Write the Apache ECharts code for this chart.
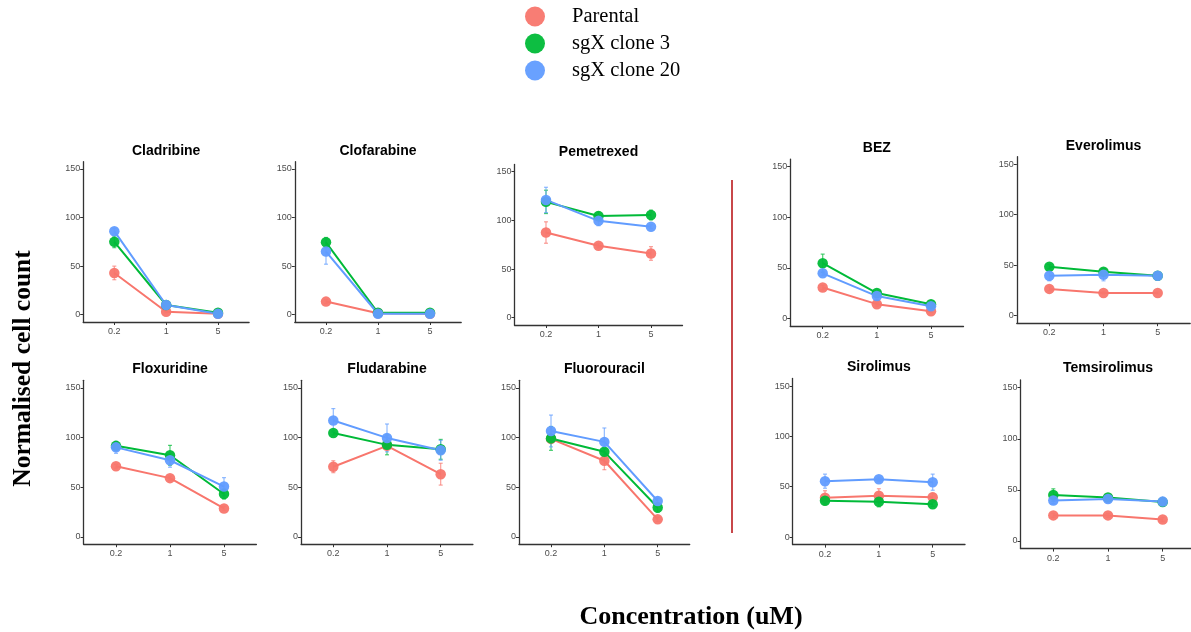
<!DOCTYPE html>
<html>
<head>
<meta charset="utf-8">
<script src="https://cdn.jsdelivr.net/npm/echarts@6/dist/echarts.min.js"></script>
<style>
html, body { margin: 0; padding: 0; background: #fff; }
#chart { width: 1191px; height: 632px; }
</style>
</head>
<body>
<div id="chart"></div>
<script>
var drugs = ['Cladribine', 'Clofarabine', 'Pemetrexed', 'BEZ', 'Everolimus',
             'Floxuridine', 'Fludarabine', 'Fluorouracil', 'Sirolimus', 'Temsirolimus'];
var doses = ['0.2', '1', '5'];
var groups = ['Parental', 'sgX clone 3', 'sgX clone 20'];
var yTicks = [0, 50, 100, 150];

// mean per drug, at 0.2 / 1 / 5 uM
var parental = [
    [43, 3, 1], [13.5, 1.5, 1], [87.5, 74, 66], [30.5, 14, 7], [26.5, 22.5, 22.5],
    [71, 59, 28.5], [70.5, 91.5, 63], [98.5, 76.5, 17.5], [39, 41, 39.5], [25, 25, 21]
];
var clone3 = [
    [75, 10, 2], [74.5, 2, 2], [119, 104.5, 105.5], [54.5, 25, 14], [48.5, 43.5, 39.5],
    [91.5, 82, 43], [104.5, 92.5, 88], [99, 85.5, 29.5], [36, 35, 32.5], [45, 42.5, 38]
];
var clone20 = [
    [86, 10, 1], [65, 1, 1], [121, 99.5, 93.5], [44.5, 22, 12], [39.5, 40.5, 39.5],
    [90, 77, 50.5], [117, 99.5, 87], [106.5, 95.5, 36], [55.5, 57.5, 54.5], [39.5, 41, 38.5]
];

// error bar half widths
var parentalErr = [
    [7, 1, 0.5], [2, 1, 0.5], [11, 2, 7], [2, 2, 1], [2, 1, 1],
    [2, 2, 2], [6, 2, 11], [3, 9, 2], [7, 7, 4], [2, 2, 2]
];
var clone3Err = [
    [6, 2, 1], [5, 1, 1], [12, 4, 5], [9, 2, 2], [2, 3, 3],
    [4, 10, 5], [2, 10, 10], [12, 3, 5], [3, 5, 2], [6, 2, 2]
];
var clone20Err = [
    [3, 2, 1], [13, 1, 1], [13, 5, 2], [2, 2, 2], [5, 6, 2],
    [6, 7, 9], [12, 14, 10], [16, 14, 3], [7, 2, 8], [3, 2, 2]
];

var colors = ['#F8766D', '#00BA38', '#619CFF'];
var means = [parental, clone3, clone20];
var errs = [parentalErr, clone3Err, clone20Err];

// panel boxes: left, top, width, height
var boxes = [
    [83.2, 161.7, 165.9, 160.3], [294.8, 161.7, 166.4, 160.3], [514.5, 164.4, 168, 160.6],
    [790.2, 159.1, 173.3, 166.8], [1016.8, 156.7, 173.4, 166.5],
    [83.6, 380.3, 172.8, 163.9], [301.1, 380.3, 171.8, 163.9], [519, 380.3, 170.7, 163.9],
    [792.7, 378.5, 172.3, 166.1], [1020.5, 380, 175, 168.6]
];
var titleY = [151.7, 151.7, 153, 149, 147, 370, 370, 370, 368, 369];

var chart = echarts.init(document.getElementById('chart'));

var grid = [], xAxis = [], yAxis = [], title = [], series = [];

boxes.forEach(function (b, p) {
    grid.push({ left: b[0], top: b[1], width: b[2], height: b[3], outerBoundsMode: 'none' });
    title.push({
        text: drugs[p],
        left: b[0] + b[2] / 2,
        top: titleY[p] - 8,
        textAlign: 'center',
        padding: 0,
        textStyle: { fontFamily: 'Liberation Sans', fontWeight: 'bold', fontSize: 14, color: '#000' }
    });
    xAxis.push({
        type: 'value', gridIndex: p, min: -0.6, max: 2.6,
        axisLine: { show: true, onZero: false, lineStyle: { color: '#333', width: 1.3 } },
        axisTick: { show: true, length: 3, customValues: [0, 1, 2], lineStyle: { color: '#333' } },
        axisLabel: {
            customValues: [0, 1, 2], margin: 5, fontSize: 9, color: '#4d4d4d', fontFamily: 'Liberation Sans',
            formatter: function (v) { return doses[v]; }
        },
        splitLine: { show: false }
    });
    yAxis.push({
        type: 'value', gridIndex: p, min: -7.5, max: 157.5,
        axisLine: { show: true, onZero: false, lineStyle: { color: '#333', width: 1.3 } },
        axisTick: { show: true, length: 3, customValues: yTicks, lineStyle: { color: '#333' } },
        axisLabel: { customValues: yTicks, margin: 3, fontSize: 9, color: '#4d4d4d', fontFamily: 'Liberation Sans' },
        splitLine: { show: false }
    });

    groups.forEach(function (g, k) {
        var vals = means[k][p], e = errs[k][p];
        series.push({
            type: 'custom',
            xAxisIndex: p, yAxisIndex: p,
            z: 1,
            silent: true,
            data: vals.map(function (v, i) { return [i, v, e[i]]; }),
            renderItem: function (params, api) {
                var x = api.value(0), v = api.value(1), d = api.value(2);
                var hi = api.coord([x, v + d]);
                var lo = api.coord([x, v - d]);
                var st = { stroke: colors[k], lineWidth: 1.2, opacity: 0.7 };
                return {
                    type: 'group',
                    children: [
                        { type: 'line', shape: { x1: hi[0], y1: hi[1], x2: lo[0], y2: lo[1] }, style: st },
                        { type: 'line', shape: { x1: hi[0] - 2, y1: hi[1], x2: hi[0] + 2, y2: hi[1] }, style: st },
                        { type: 'line', shape: { x1: lo[0] - 2, y1: lo[1], x2: lo[0] + 2, y2: lo[1] }, style: st }
                    ]
                };
            }
        });
    });
});

// lines after error bars so points sit on top, in group order
boxes.forEach(function (b, p) {
    groups.forEach(function (g, k) {
        series.push({
            name: g,
            type: 'line',
            xAxisIndex: p, yAxisIndex: p,
            z: 2,
            symbol: 'circle',
            symbolSize: 10.5,
            animation: false,
            itemStyle: { color: colors[k], opacity: 0.95 },
            lineStyle: { color: colors[k], width: 2 },
            data: means[k][p].map(function (v, i) { return [i, v]; })
        });
    });
});

var option = {
    animation: false,
    title: title,
    grid: grid,
    xAxis: xAxis,
    yAxis: yAxis,
    legend: {
        data: groups,
        orient: 'vertical',
        left: 525,
        top: 6,
        padding: 0,
        icon: 'circle',
        itemWidth: 20,
        itemHeight: 20,
        itemGap: 6,
        textStyle: { fontFamily: 'Liberation Serif', fontSize: 20.5, lineHeight: 20, color: '#000', padding: [0, 0, 0, 22] }
    },
    graphic: [
        { type: 'line', shape: { x1: 732, y1: 180, x2: 732, y2: 533 }, style: { stroke: '#c8474a', lineWidth: 2 } },
        {
            type: 'text', x: 23, y: 368.5, rotation: Math.PI / 2,
            style: { text: 'Normalised cell count', fontFamily: 'Liberation Serif', fontWeight: 'bold', fontSize: 25.5,
                     fill: '#000', align: 'center', verticalAlign: 'middle' }
        },
        {
            type: 'text', x: 691, y: 617,
            style: { text: 'Concentration (uM)', fontFamily: 'Liberation Serif', fontWeight: 'bold', fontSize: 26,
                     fill: '#000', align: 'center', verticalAlign: 'middle' }
        }
    ],
    series: series
};
chart.setOption(option);
</script>
</body>
</html>
